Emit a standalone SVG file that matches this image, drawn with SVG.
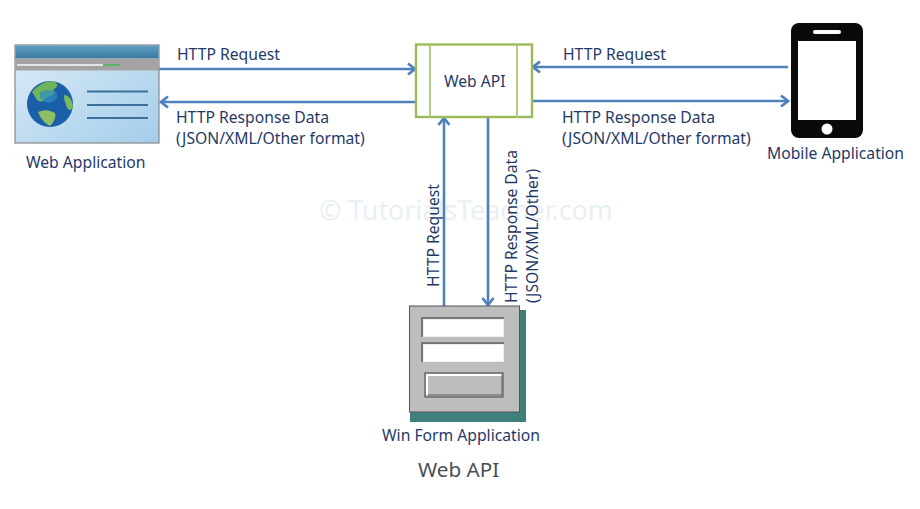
<svg xmlns="http://www.w3.org/2000/svg" width="920" height="509" viewBox="0 0 920 509">
<style>
text{font-family:"Noto Sans","Open Sans","DejaVu Sans",sans-serif;font-size:15.7px;fill:#1f3a68}
.t{fill:#4a4f57;font-size:20.7px}
.w{font-size:26.8px;fill:#e8f0f4}
.c{fill:none;stroke:#4f81bd;stroke-width:2.6px}
.h{fill:none;stroke:#4f81bd;stroke-width:2.8px}
.f{fill:#fff;stroke:none}
</style>
<defs>
<linearGradient id="hd" x1="0" y1="0" x2="0" y2="1"><stop offset="0" stop-color="#5f9cbf"/><stop offset="1" stop-color="#3a7aa2"/></linearGradient>
<linearGradient id="bd" x1="0" y1="0" x2="1" y2="1"><stop offset="0" stop-color="#dcecf8"/><stop offset="1" stop-color="#a4cdea"/></linearGradient>
<marker id="a" markerWidth="14" markerHeight="14" refX="11" refY="7" orient="auto" markerUnits="userSpaceOnUse"><path class="h" d="M4 1.500 L11 7 L4 12.500"/></marker>
</defs>
<rect width="920" height="509" fill="#fff"/>
<text class="w" x="319" y="220">© TutorialsTeacher.com</text>
<g id="connectors">
<path class="c" d="M159 69H415" marker-end="url(#a)"/>
<path class="c" d="M416 102H161" marker-end="url(#a)"/>
<path class="c" d="M788 67H533" marker-end="url(#a)"/>
<path class="c" d="M532 101H788" marker-end="url(#a)"/>
<path class="c" d="M444 306V118" marker-end="url(#a)"/>
<path class="c" d="M488 118V305" marker-end="url(#a)"/>
<text x="177" y="60">HTTP Request</text>
<text x="176" y="123">HTTP Response Data</text>
<text x="176" y="144">(JSON/XML/Other format)</text>
<text x="563" y="60">HTTP Request</text>
<text x="562" y="123">HTTP Response Data</text>
<text x="562" y="144">(JSON/XML/Other format)</text>
<text transform="translate(438.500 287) rotate(-90)">HTTP Request</text>
<text transform="translate(517 303) rotate(-90)">HTTP Response Data</text>
<text transform="translate(537.500 303) rotate(-90)">(JSON/XML/Other)</text>
</g>
<g id="web-app">
<rect x="15" y="45" width="144" height="98" fill="url(#bd)" stroke="#888" stroke-width="1.2"/>
<rect x="15.500" y="45.500" width="143" height="13" fill="url(#hd)"/>
<rect x="15.500" y="58.500" width="143" height="12" fill="#a3a3a3"/>
<rect x="17" y="64" width="86" height="2" fill="#e4e4e4"/>
<rect x="103" y="64" width="17" height="2" fill="#5fae6a"/>
<circle cx="50" cy="104" r="23" fill="#1a5fa8"/>
<path d="M32 92Q40 82 52 81Q62 84 53 90Q58 94 46 98Q42 104 37 100Z" fill="#6fb35a"/>
<path d="M38 112Q47 108 55 113Q57 119 50 126Q42 122 38 112Z" fill="#8cc063"/>
<path d="M64 95Q71 95 73 106Q71 112 68 109Q64 102 64 95Z" fill="#7cba5c"/>
<path d="M40 92Q48 88 56 92Q60 98 52 102Q44 104 40 98Z" fill="#2f8fc4" opacity=".7"/>
<path d="M87 91.500H148M87 105H148M87 118H148" stroke="#3a7099" stroke-width="2" fill="none"/>
<text x="26" y="168">Web Application</text>
</g>
<g id="web-api">
<rect x="416" y="44.500" width="116" height="72.500" fill="#fff" stroke="#9bbb59" stroke-width="2.400"/>
<path d="M430 45V117M517 45V117" stroke="#b3cc82" stroke-width="2" fill="none"/>
<text x="444" y="87">Web API</text>
</g>
<g id="mobile-app">
<rect x="791" y="23" width="72" height="115" rx="8" fill="#0a0a0a"/>
<rect x="798" y="41" width="58" height="79" fill="#fff"/>
<rect x="813" y="30" width="28" height="4" rx="2" fill="#fff"/>
<circle cx="827" cy="129" r="5.500" fill="#fff"/>
<text x="767" y="159">Mobile Application</text>
</g>
<g id="win-form">
<rect x="410" y="310" width="116" height="112" fill="#3f7f7c"/>
<rect x="409.500" y="306" width="110" height="106" fill="#bdbdbd" stroke="#555" stroke-width="1"/>
<rect x="422" y="318" width="82" height="19" fill="#eee"/>
<path d="M422 337V318H504" fill="none" stroke="#777" stroke-width="2"/>
<rect x="424" y="320" width="79" height="16" class="f"/>
<rect x="422" y="343" width="82" height="19" fill="#eee"/>
<path d="M422 362V343H504" fill="none" stroke="#777" stroke-width="2"/>
<rect x="424" y="345" width="79" height="16" class="f"/>
<rect x="425" y="373" width="78" height="24" fill="#bdbdbd" stroke="#555" stroke-width="1.200"/>
<path d="M427 395V375H501" fill="none" stroke="#fff" stroke-width="2"/>
<path d="M428 395H502V376" fill="none" stroke="#7a7a7a" stroke-width="1.500"/>
<text x="382" y="441">Win Form Application</text>
</g>
<text class="t" x="418" y="477">Web API</text>
</svg>
